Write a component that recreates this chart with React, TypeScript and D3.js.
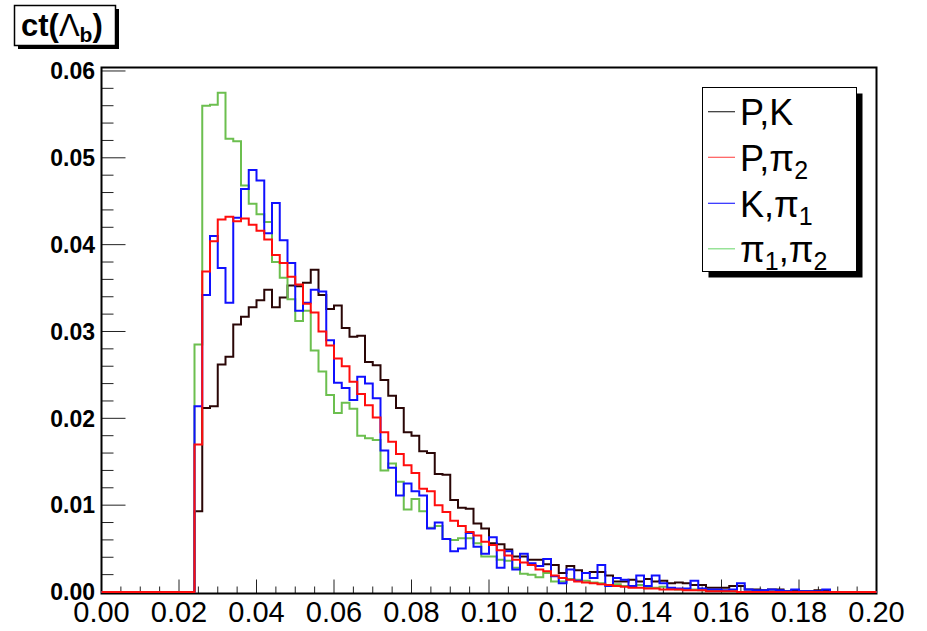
import React from "react";
import * as d3 from "d3";

// ---- data (histograms, bin width 0.002, first filled bin starts at 0.024) ----
const binStart = 0.024;
const binWidth = 0.002;
const nBins = 100;

const pkValues = [
  0.0093, 0.0212, 0.0214, 0.0262, 0.0271, 0.0308, 0.0317, 0.0328, 0.0336, 0.0348,
  0.0328, 0.0339, 0.0353, 0.0352, 0.0356, 0.0371, 0.0342, 0.0326, 0.0330, 0.0304,
  0.0294, 0.0295, 0.0265, 0.0261, 0.0244, 0.0226, 0.0212, 0.0184, 0.0180, 0.0162,
  0.0160, 0.0136, 0.0135, 0.0106, 0.0097, 0.0096, 0.0079, 0.0073, 0.0056, 0.0055,
  0.0049, 0.0041, 0.0041, 0.0037, 0.0037, 0.0032, 0.0031, 0.0022, 0.0030, 0.0025,
  0.0022, 0.0023, 0.0023, 0.0019, 0.0012, 0.0012, 0.0014, 0.0012, 0.0015, 0.0012,
  0.0013, 0.0010, 0.0011, 0.0010, 0.0008, 0.0008, 0.0005, 0.0005, 0.0005, 0.0007,
  0.0007, 0.0003, 0.0003, 0.0002, 0.0003, 0.0003, 0.0001, 0.0002, 0.0001, 0.0001,
  0.0002, 0.0002,
];

const ppi2Values = [
  0.0170, 0.0369, 0.0404, 0.0429, 0.0432, 0.0427, 0.0430, 0.0423, 0.0416, 0.0406,
  0.0388, 0.0379, 0.0363, 0.0354, 0.0332, 0.0322, 0.0300, 0.0284, 0.0269, 0.0260,
  0.0242, 0.0228, 0.0215, 0.0201, 0.0184, 0.0173, 0.0159, 0.0146, 0.0137, 0.0119,
  0.0116, 0.0100, 0.0092, 0.0082, 0.0076, 0.0069, 0.0065, 0.0058, 0.0054, 0.0048,
  0.0042, 0.0037, 0.0034, 0.0031, 0.0026, 0.0024, 0.0019, 0.0016, 0.0014, 0.0012,
  0.0011, 0.0010, 0.0009, 0.0008, 0.0007, 0.0006, 0.0005, 0.0005, 0.0004, 0.0004,
  0.0003, 0.0003, 0.0003, 0.0002, 0.0002, 0.0002, 0.0001, 0.0001, 0.0001, 0.0001,
];

const kpi1Values = [
  0.0214, 0.0342, 0.0410, 0.0373, 0.0333, 0.0431, 0.0464, 0.0486, 0.0474, 0.0413,
  0.0448, 0.0405, 0.0379, 0.0324, 0.0333, 0.0348, 0.0346, 0.0290, 0.0241, 0.0235,
  0.0221, 0.0248, 0.0240, 0.0223, 0.0163, 0.0143, 0.0111, 0.0125, 0.0116, 0.0111,
  0.0073, 0.0080, 0.0061, 0.0047, 0.0050, 0.0068, 0.0052, 0.0044, 0.0063, 0.0028,
  0.0047, 0.0026, 0.0044, 0.0033, 0.0030, 0.0038, 0.0018, 0.0010, 0.0026, 0.0013,
  0.0022, 0.0016, 0.0031, 0.0007, 0.0016, 0.0014, 0.0007, 0.0019, 0.0007, 0.0019,
  0.0010, 0.0005, 0.0004, 0.0004, 0.0013, 0.0004, 0.0003, 0.0003, 0.0002, 0.0003,
  0.0010, 0.0003, 0.0002, 0.0002, 0.0003, 0.0002, 0.0001, 0.0003, 0.0001, 0.0001,
  0.0001, 0.0003,
];

const pi1pi2Values = [
  0.0285, 0.0560, 0.0561, 0.0575, 0.0522, 0.0519, 0.0468, 0.0447, 0.0435, 0.0426,
  0.0380, 0.0362, 0.0337, 0.0312, 0.0324, 0.0278, 0.0254, 0.0227, 0.0206, 0.0218,
  0.0211, 0.0180, 0.0177, 0.0175, 0.0140, 0.0148, 0.0127, 0.0095, 0.0107, 0.0093,
  0.0074, 0.0076, 0.0061, 0.0060, 0.0062, 0.0062, 0.0056, 0.0041, 0.0041, 0.0037,
  0.0036, 0.0028, 0.0021, 0.0020, 0.0017, 0.0022, 0.0012, 0.0012, 0.0015, 0.0014,
  0.0013, 0.0011, 0.0010, 0.0008, 0.0009, 0.0007, 0.0006, 0.0008, 0.0005, 0.0005,
  0.0006, 0.0004, 0.0003, 0.0003, 0.0003, 0.0002, 0.0002, 0.0002, 0.0001, 0.0001,
];

const xTickLabels = ["0.00", "0.02", "0.04", "0.06", "0.08", "0.10", "0.12", "0.14", "0.16", "0.18", "0.20"];
const yTickLabels = ["0.00", "0.01", "0.02", "0.03", "0.04", "0.05", "0.06"];

// legend labels: [text, isSubscript]
const legendLabels: [string, boolean][][] = [
  [["P,K", false]],
  [["P,π", false], ["2", true]],
  [["K,π", false], ["1", true]],
  [["π", false], ["1", true], [",π", false], ["2", true]],
];

const FONT = "'Liberation Sans', Arial, Helvetica, sans-serif";

const W = 927;
const H = 631;
const frame = { left: 101.5, right: 876.5, top: 67.5, bottom: 593.5 };

const series = [
  { values: pkValues, color: "#2a0606", legendColor: "#333333" },
  { values: pi1pi2Values, color: "#6cbf4f", legendColor: "#7fdc7f" },
  { values: kpi1Values, color: "#1010ff", legendColor: "#2a2aff" },
  { values: ppi2Values, color: "#ff0d0d", legendColor: "#ff5a5a" },
];
const legendOrder = [0, 3, 2, 1];

export default function App() {
  const x = d3.scaleLinear().domain([0, 0.2]).range([frame.left, frame.right]);
  const y = d3.scaleLinear().domain([0, 0.0604]).range([592, frame.top]);

  const offset = Math.round(binStart / binWidth);
  const histPoints = (vals: number[]) => {
    const full = new Array(nBins).fill(0);
    vals.forEach((v, i) => {
      if (offset + i < nBins) full[offset + i] = v;
    });
    const pts: [number, number][] = [];
    full.forEach((v, i) => {
      pts.push([i * binWidth, v]);
      pts.push([(i + 1) * binWidth, v]);
    });
    return pts;
  };
  const line = d3
    .line<[number, number]>()
    .x((d) => x(d[0]))
    .y((d) => y(d[1]));

  const xMajor = xTickLabels.map((t) => +t);
  const xMinor = d3.range(0, 41).map((i) => i * 0.005).filter((v) => Math.abs(v / 0.02 - Math.round(v / 0.02)) > 1e-6);
  const yMajor = yTickLabels.map((t) => +t);
  const yMinor = d3.range(0, 31).map((i) => i * 0.002).filter((v) => Math.abs(v / 0.01 - Math.round(v / 0.01)) > 1e-6);

  const legendRowY = [111.7, 157.3, 203.3, 248.8];

  return (
    <svg width={W} height={H} style={{ position: "absolute", left: 0, top: 0, background: "#fff" }} fontFamily={FONT}>
      <rect x={0} y={0} width={W} height={H} fill="#fff" />

      {/* y ticks */}
      {yMajor.map((v) => (
        <line key={"ym" + v} x1={frame.left} x2={frame.left + 24} y1={y(v)} y2={y(v)} stroke="#222" strokeWidth={1} />
      ))}
      {yMinor.map((v) => (
        <line key={"yn" + v} x1={frame.left} x2={frame.left + 12} y1={y(v)} y2={y(v)} stroke="#222" strokeWidth={1} />
      ))}
      {/* x ticks */}
      {xMajor.map((v) => (
        <line key={"xm" + v} x1={x(v)} x2={x(v)} y1={frame.bottom} y2={frame.bottom - 14} stroke="#222" strokeWidth={1} />
      ))}
      {xMinor.map((v) => (
        <line key={"xn" + v} x1={x(v)} x2={x(v)} y1={frame.bottom} y2={frame.bottom - 7} stroke="#222" strokeWidth={1} />
      ))}

      {/* frame */}
      <rect
        x={frame.left}
        y={frame.top}
        width={frame.right - frame.left}
        height={frame.bottom - frame.top}
        fill="none"
        stroke="#000"
        strokeWidth={2}
      />

      {/* histograms */}
      {series.map((s, i) => (
        <path key={"h" + i} d={line(histPoints(s.values)) || ""} fill="none" stroke={s.color} strokeWidth={2} />
      ))}

      {/* y labels */}
      {yTickLabels.map((t) => (
        <text key={"yl" + t} x={95} y={y(+t)} dy="0.36em" textAnchor="end" fontSize={23} fontWeight="bold" fill="#000">
          {t}
        </text>
      ))}
      {/* x labels */}
      {xTickLabels.map((t) => (
        <text key={"xl" + t} x={x(+t)} y={622} textAnchor="middle" fontSize={29} fill="#000">
          {t}
        </text>
      ))}

      {/* title box */}
      <rect x={18} y={9} width={101} height={40} fill="#000" />
      <rect x={14.5} y={5.5} width={101} height={40} fill="#fff" stroke="#000" strokeWidth={1.5} />
      <text x={21} y={36} fontSize={31} fill="#000">
        <tspan fontWeight="bold">ct(</tspan>
        <tspan>Λ</tspan>
        <tspan fontWeight="bold" fontSize={21} dy={6}>b</tspan>
        <tspan fontWeight="bold" dy={-6}>)</tspan>
      </text>

      {/* legend */}
      <rect x={708.5} y={93.5} width={154} height={184} fill="#000" />
      <rect x={702.5} y={87.5} width={154} height={184} fill="#fff" stroke="#000" strokeWidth={1} />
      {legendOrder.map((si, row) => {
        const ly = legendRowY[row];
        return (
          <g key={"lg" + row}>
            <line x1={708} x2={735} y1={ly} y2={ly} stroke={series[si].legendColor} strokeWidth={1.2} />
            <text x={740} y={ly + 13.3} fontSize={36} fill="#000">
              {legendLabels[row].map(([txt, sub], k) => {
                const prevSub = k > 0 ? legendLabels[row][k - 1][1] : false;
                const dy = sub && !prevSub ? 8 : !sub && prevSub ? -8 : 0;
                return (
                  <tspan key={k} fontSize={sub ? 25 : 36} dy={dy}>
                    {txt}
                  </tspan>
                );
              })}
            </text>
          </g>
        );
      })}
    </svg>
  );
}
